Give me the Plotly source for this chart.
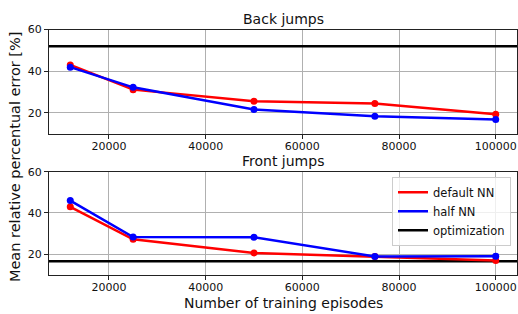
import plotly.graph_objects as go

episodes = [12000, 25000, 50000, 75000, 100000]
back_default = [43.0, 31.1, 25.5, 24.4, 19.3]
back_half = [41.9, 32.2, 21.6, 18.3, 16.7]
back_opt = 52.0
front_default = [43.0, 27.2, 20.6, 18.9, 16.9]
front_half = [46.0, 28.3, 28.2, 18.9, 19.0]
front_opt = 16.5
titles = ["Back jumps", "Front jumps"]
xticks = [20000, 40000, 60000, 80000, 100000]
yticks = [20, 40, 60]

W, H = 518, 314
RED, BLUE = "#ff0000", "#0000ff"
FONT = "DejaVu Sans"

fig = go.Figure()

def py(p):
    return 1 - p / H

xdom = [49 / W, 517 / W]
ydoms = [[py(130), py(24)], [py(274), py(169)]]

xmin, xmax = min(episodes), max(episodes)
pad = (xmax - xmin) * 0.05
xr = [xmin - pad, xmax + pad]

datasets = [(back_default, back_half, back_opt), (front_default, front_half, front_opt)]
for i, (d, h, opt) in enumerate(datasets):
    xa = "x" if i == 0 else "x2"
    ya = "y" if i == 0 else "y2"
    fig.add_trace(go.Scatter(x=xr, y=[opt, opt], mode="lines", name="optimization",
                             line=dict(color="black", width=2.5),
                             xaxis=xa, yaxis=ya, showlegend=False))
    fig.add_trace(go.Scatter(x=episodes, y=d, mode="lines+markers", name="default NN",
                             line=dict(color=RED, width=2.5), marker=dict(size=7, color=RED),
                             xaxis=xa, yaxis=ya, showlegend=False))
    fig.add_trace(go.Scatter(x=episodes, y=h, mode="lines+markers", name="half NN",
                             line=dict(color=BLUE, width=2.5), marker=dict(size=7, color=BLUE),
                             xaxis=xa, yaxis=ya, showlegend=False))

for name, col in [("default NN", RED), ("half NN", BLUE), ("optimization", "black")]:
    fig.add_trace(go.Scatter(x=[None], y=[None], mode="lines", name=name,
                             line=dict(color=col, width=2.5), xaxis="x2", yaxis="y2",
                             showlegend=True))

axcommon = dict(showline=True, mirror=True, linecolor="#222", linewidth=1,
                showgrid=True, gridcolor="#b0b0b0", gridwidth=1,
                ticks="outside", ticklen=4, tickcolor="#222",
                tickfont=dict(family=FONT, size=11, color="#111"), zeroline=False)

for i in range(2):
    sx = "" if i == 0 else "2"
    fig.layout["xaxis" + sx] = dict(domain=xdom, range=xr, anchor="y" + sx,
                                    tickvals=xticks, ticktext=[str(t) for t in xticks],
                                    ticklabelstandoff=-2, **axcommon)
    fig.layout["yaxis" + sx] = dict(domain=ydoms[i], range=[10, 60], anchor="x" + sx,
                                    tickvals=yticks, **axcommon)
    fig.add_annotation(text=titles[i], xref="paper", yref="paper",
                       x=(xdom[0] + xdom[1]) / 2, y=ydoms[i][1], yshift=1,
                       xanchor="center", yanchor="bottom", showarrow=False,
                       font=dict(family=FONT, size=14, color="#111"))

fig.add_annotation(text="Number of training episodes", xref="paper", yref="paper",
                   x=(xdom[0] + xdom[1]) / 2, y=py(313), xanchor="center", yanchor="bottom",
                   showarrow=False, font=dict(family=FONT, size=14, color="#111"))
fig.add_annotation(text="Mean relative percentual error [%]", xref="paper", yref="paper",
                   x=5 / W, y=py(154), textangle=-90,
                   xanchor="left", yanchor="middle",
                   showarrow=False, font=dict(family=FONT, size=14.5, color="#111"))

fig.update_layout(
    width=W, height=H, margin=dict(l=0, r=0, t=0, b=0),
    paper_bgcolor="white", plot_bgcolor="white",
    legend=dict(x=511 / W, y=py(174), xanchor="right", yanchor="top",
                bgcolor="rgba(255,255,255,0.8)", bordercolor="#cccccc", borderwidth=1,
                font=dict(family=FONT, size=11.5, color="#111"), tracegroupgap=0,
                itemwidth=30),
    font=dict(family=FONT),
)

fig.write_html("out.html", config={"displayModeBar": False},
               post_script="document.body.style.margin='0';")
